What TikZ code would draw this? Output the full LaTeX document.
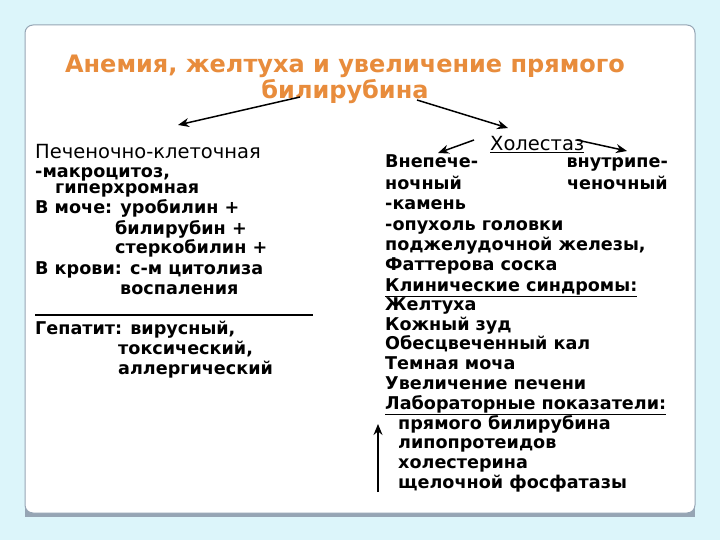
\documentclass[tikz,border=0pt]{standalone}
\usepackage{fontspec}
\setmainfont{DejaVu Sans}
\usetikzlibrary{arrows.meta}
\definecolor{bgc}{RGB}{220,245,250}
\definecolor{ttl}{RGB}{232,140,60}
\definecolor{edge}{RGB}{150,165,180}
\begin{document}
\begin{tikzpicture}[x=1pt,y=-1pt,
  txt/.style={anchor=base west,inner sep=0pt,font=\fontsize{17.6}{19}\selectfont\bfseries},
  reg/.style={anchor=base west,inner sep=0pt,font=\fontsize{19.5}{21}\selectfont},
  arr/.style={-{Stealth[length=11pt,width=9pt]},line width=1.5pt}]
\useasboundingbox (0,0) rectangle (720,540);
\fill[bgc] (0,0) rectangle (720,540);
\fill[edge] (25,30) rectangle (695,517);
\draw[edge,fill=white,rounded corners=8pt,line width=1pt] (25,25) rectangle (695,513);
\node[anchor=base,inner sep=0pt,font=\fontsize{24}{26}\selectfont\bfseries,text=ttl] (t1) at (345,73) {Анемия, желтуха и увеличение прямого};
\node[anchor=base,inner sep=0pt,font=\fontsize{24}{26}\selectfont\bfseries,text=ttl] (t2) at (345,99) {билирубина};
\coordinate (a1) at (300,97); \coordinate (a2) at (178,125);
\coordinate (b1) at (417,100); \coordinate (b2) at (508,128);
\draw[arr] (a1) -- (a2);
\draw[arr] (b1) -- (b2);
% left column
\node[reg] (l0) at (35,159) {Печеночно-клеточная};
\node[txt] (l1) at (35,178) {-макроцитоз,};
\node[txt] (l2) at (55,194) {гиперхромная};
\node[txt] (l3) at (35,214) {В моче: уробилин +};
\node[txt] (l4) at (115,234) {билирубин +};
\node[txt] (l5) at (115,254) {стеркобилин +};
\node[txt] (l6) at (35,274) {В крови: с-м цитолиза};
\node[txt] (l7) at (120,294) {воспаления};
\coordinate (h1) at (35,315); \coordinate (h2) at (313,315);
\draw[line width=1.2pt] (h1) -- (h2);
\node[txt] (l8) at (35,334) {Гепатит: вирусный,};
\node[txt] (l9) at (118,354) {токсический,};
\node[txt] (l10) at (118,374) {аллергический};
% right column
\node[reg] (ch) at (490,151) {\underline{Холестаз}};
\coordinate (c1) at (474,140); \coordinate (c2) at (438,153);
\coordinate (d1) at (577,140); \coordinate (d2) at (627,151);
\draw[arr] (c1) -- (c2);
\draw[arr] (d1) -- (d2);
\node[txt] (r1) at (385,168) {Внепече-};
\node[txt,anchor=base east] (r1b) at (668,168) {внутрипе-};
\node[txt] (r2) at (385,190) {ночный};
\node[txt,anchor=base east] (r2b) at (668,190) {ченочный};
\node[txt] (r3) at (385,210) {-камень};
\node[txt] (r4) at (385,230) {-опухоль головки};
\node[txt] (r5) at (385,250) {поджелудочной железы,};
\node[txt] (r6) at (385,270) {Фаттерова соска};
\node[txt] (r7) at (385,291) {\underline{Клинические синдромы:}};
\node[txt] (r8) at (385,310) {Желтуха};
\node[txt] (r9) at (385,330) {Кожный зуд};
\node[txt] (r10) at (385,349) {Обесцвеченный кал};
\node[txt] (r11) at (385,369) {Темная моча};
\node[txt] (r12) at (385,389) {Увеличение печени};
\node[txt] (r13) at (385,409) {\underline{Лабораторные показатели:}};
\node[txt] (r14) at (398,429) {прямого билирубина};
\node[txt] (r15) at (398,448) {липопротеидов};
\node[txt] (r16) at (398,468) {холестерина};
\node[txt] (r17) at (398,488) {щелочной фосфатазы};
\coordinate (u1) at (378,492); \coordinate (u2) at (378,424);
\draw[arr] (u1) -- (u2);
\end{tikzpicture}
\end{document}
